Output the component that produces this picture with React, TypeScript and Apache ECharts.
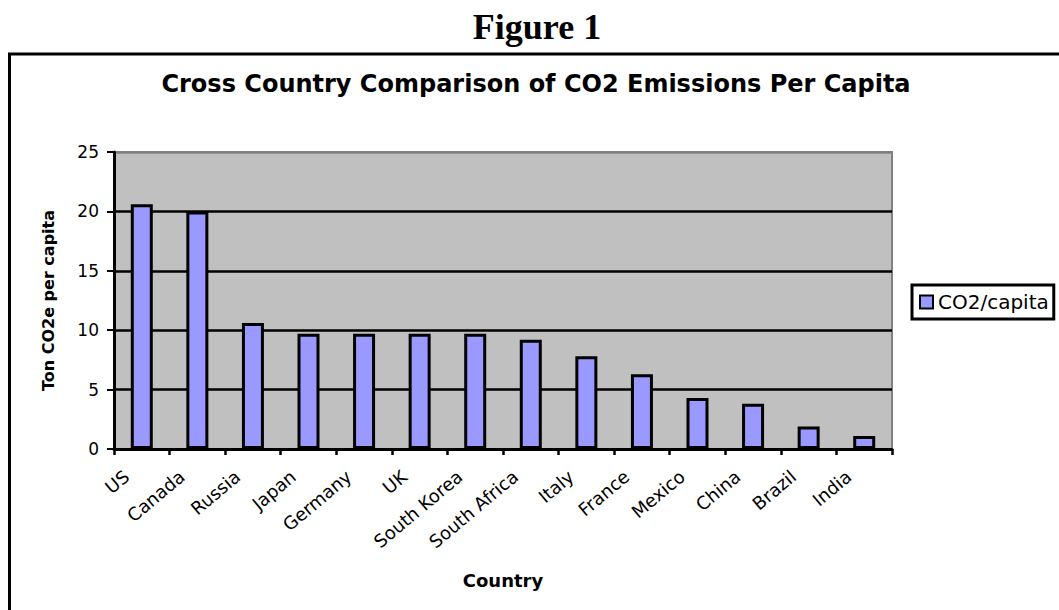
import { useEffect, useRef } from "react";
import * as echarts from "echarts";

// CO2 emissions per capita by country (tonnes CO2e per person)
const countries = [
  "US",
  "Canada",
  "Russia",
  "Japan",
  "Germany",
  "UK",
  "South Korea",
  "South Africa",
  "Italy",
  "France",
  "Mexico",
  "China",
  "Brazil",
  "India",
];
const co2PerCapita = [20.6, 20.0, 10.6, 9.7, 9.7, 9.7, 9.7, 9.2, 7.8, 6.3, 4.3, 3.8, 1.9, 1.1];

const yMin = 0;
const yMax = 25;
const yStep = 5;

const figureLabel = "Figure 1";
const chartTitle = "Cross Country Comparison of CO2 Emissions Per Capita";
const xAxisTitle = "Country";
const yAxisTitle = "Ton CO2e per capita";
const seriesName = "CO2/capita";

const SANS = "DejaVu Sans";

export default function App() {
  const ref = useRef<HTMLDivElement>(null);

  useEffect(() => {
    if (!ref.current) return;
    const chart = echarts.init(ref.current, undefined, { renderer: "svg" });

    // split lines at 0..25; the top one blends into the grey plot frame
    const splitColors = [];
    for (let v = yMin; v <= yMax; v += yStep) splitColors.push(v === yMax ? "#808080" : "#000000");

    chart.setOption({
      animation: false,
      backgroundColor: "#ffffff",
      title: [
        {
          text: figureLabel,
          left: 537,
          top: 9,
          padding: 0,
          textAlign: "center",
          textStyle: {
            fontFamily: "Liberation Serif",
            fontWeight: "bold",
            fontSize: 36,
            color: "#000",
          },
        },
        {
          text: chartTitle,
          left: 536,
          top: 72,
          padding: 0,
          textAlign: "center",
          textStyle: {
            fontFamily: SANS,
            fontWeight: "bold",
            fontSize: 24,
            color: "#000",
          },
        },
      ],
      graphic: [
        {
          type: "rect",
          silent: true,
          z: -10,
          shape: { x: 9.5, y: 54, width: 1200, height: 700 },
          style: { fill: "none", stroke: "#000", lineWidth: 3 },
        },
      ],
      legend: {
        show: true,
        left: 912,
        top: 285,
        orient: "vertical",
        backgroundColor: "#fff",
        borderColor: "#000",
        borderWidth: 3,
        borderRadius: 0,
        padding: [7, 5, 7, 7],
        icon: "rect",
        itemWidth: 13,
        itemHeight: 13,
        itemStyle: { borderColor: "#000", borderWidth: 2 },
        textStyle: { fontFamily: SANS, fontSize: 20, color: "#000" },
      },
      grid: {
        left: 114,
        right: 167,
        top: 152,
        bottom: 161,
        show: true,
        backgroundColor: "#C0C0C0",
        borderColor: "#808080",
        borderWidth: 2,
      },
      xAxis: {
        type: "category",
        data: countries,
        boundaryGap: true,
        axisLine: { show: true, lineStyle: { color: "#000", width: 3 } },
        axisTick: { show: true, length: 6, lineStyle: { color: "#000", width: 2.5 } },
        axisLabel: {
          interval: 0,
          rotate: 40,
          margin: 12,
          padding: [0, 20, 0, 0],
          fontFamily: SANS,
          fontSize: 18,
          color: "#000",
        },
        splitLine: { show: false },
        name: xAxisTitle,
        nameLocation: "middle",
        nameGap: 122,
        nameTextStyle: { fontFamily: SANS, fontWeight: "bold", fontSize: 18, color: "#000" },
      },
      yAxis: {
        type: "value",
        min: yMin,
        max: yMax,
        interval: yStep,
        axisLine: { show: true, lineStyle: { color: "#000", width: 3 } },
        axisTick: { show: true, length: 7, lineStyle: { color: "#000", width: 2 } },
        axisLabel: { margin: 15, fontFamily: SANS, fontSize: 17, color: "#000" },
        splitLine: { show: true, lineStyle: { color: splitColors, width: 2.5 } },
        name: yAxisTitle,
        nameLocation: "middle",
        nameRotate: 90,
        nameGap: 58,
        nameTextStyle: { fontFamily: SANS, fontWeight: "bold", fontSize: 16, color: "#000" },
      },
      series: [
        {
          name: seriesName,
          type: "bar",
          data: co2PerCapita,
          barWidth: 22,
          itemStyle: { color: "#9999FF", borderColor: "#000", borderWidth: 3 },
        },
      ],
    });

    return () => chart.dispose();
  }, []);

  return (
    <div
      ref={ref}
      style={{ position: "fixed", left: 0, top: 0, width: 1059, height: 610 }}
    />
  );
}
